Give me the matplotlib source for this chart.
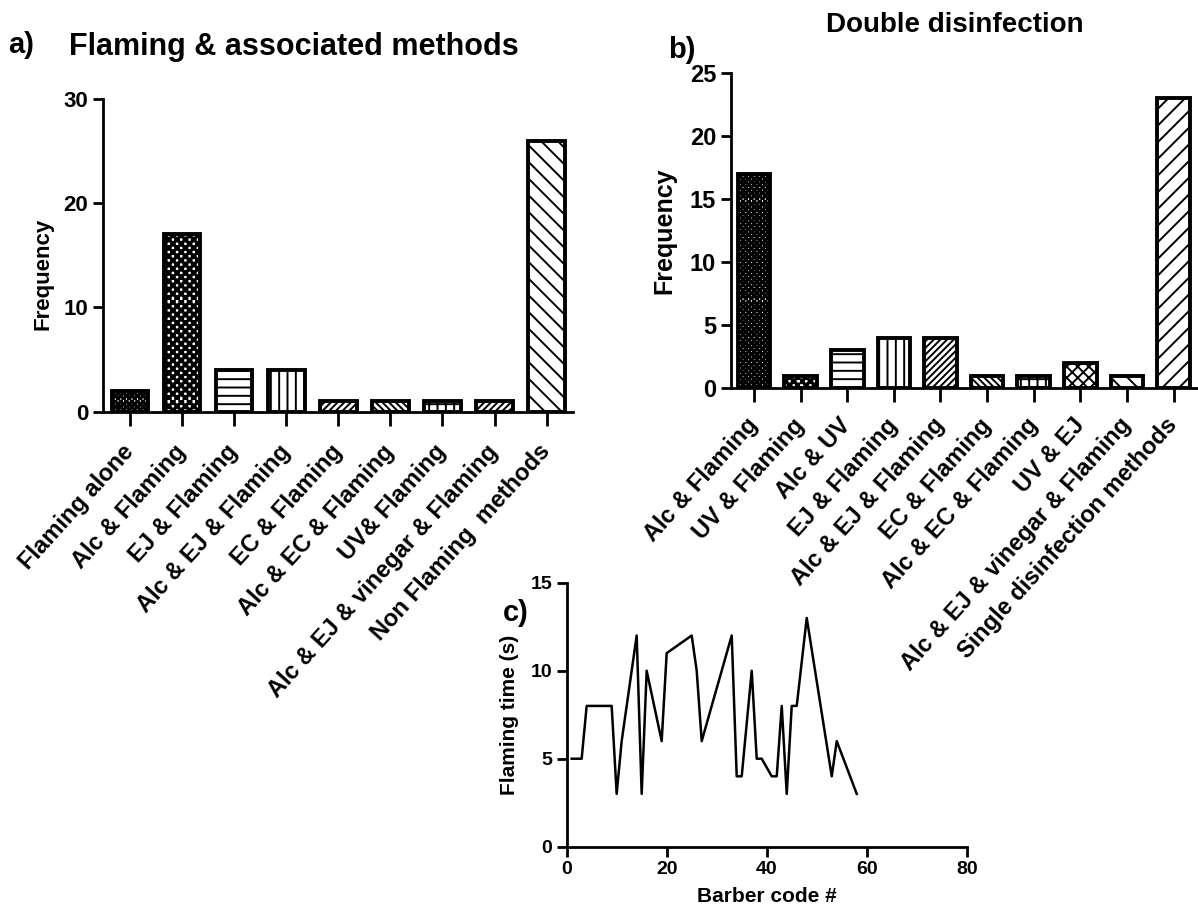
import matplotlib
matplotlib.use('Agg')
import matplotlib.pyplot as plt
import matplotlib.hatch as mhatch
from matplotlib.path import Path

# data
cats_a = ['Flaming alone', 'Alc & Flaming', 'EJ & Flaming', 'Alc & EJ & Flaming',
          'EC & Flaming', 'Alc & EC & Flaming', 'UV& Flaming',
          'Alc & EJ & vinegar & Flaming', 'Non Flaming  methods']
freq_a = [2, 17, 4, 4, 1, 1, 1, 1, 26]
hatch_a = ['OOO', 'OO', '--', '||', '/////', '\\\\\\\\\\', '++', '/////', '\\\\']

cats_b = ['Alc & Flaming', 'UV & Flaming', 'Alc & UV', 'EJ & Flaming',
          'Alc & EJ & Flaming', 'EC & Flaming', 'Alc & EC & Flaming', 'UV & EJ',
          'Alc & EJ & vinegar & Flaming', 'Single disinfection methods']
freq_b = [17, 1, 3, 4, 4, 1, 1, 2, 1, 23]
hatch_b = ['OOO', 'OO', '--', '||', '/////', '\\\\\\\\\\', '++', 'xxx', '\\\\', '//']

barber = [1, 3, 4, 9, 10, 11, 14, 15, 16, 19, 20, 25, 26, 27, 33, 34, 35, 37, 38, 39,
          41, 42, 43, 44, 45, 46, 48, 53, 54, 58]
ftime = [5, 5, 8, 8, 3, 6, 12, 3, 10, 6, 11, 12, 10, 6, 12, 4, 4, 10, 5, 5,
         4, 4, 8, 3, 8, 8, 13, 4, 6, 3]


# checkerboard hatch, takes the place of the 'O' circles
class Checker(mhatch.HatchPatternBase):
    def __init__(self, hatch, density):
        self.n = 12 * hatch.count('O')
        self.num_vertices = (self.n * self.n // 2) * 5

    def set_vertices_and_codes(self, vertices, codes):
        n = self.n
        s = 1.0 / n
        pad = 0.03 * s
        k = 0
        for i in range(n):
            for j in range(n):
                if (i + j) % 2:
                    continue
                x0, y0 = i * s + pad, j * s + pad
                x1, y1 = (i + 1) * s - pad, (j + 1) * s - pad
                vertices[k:k + 5] = [(x0, y0), (x1, y0), (x1, y1), (x0, y1), (x0, y0)]
                codes[k:k + 5] = [Path.MOVETO, Path.LINETO, Path.LINETO,
                                  Path.LINETO, Path.CLOSEPOLY]
                k += 5


mhatch._hatch_types = [Checker if t is mhatch.LargeCircles else t
                       for t in mhatch._hatch_types]

plt.rcParams['font.family'] = ['Liberation Sans', 'DejaVu Sans']
plt.rcParams['font.weight'] = 'bold'
plt.rcParams['hatch.linewidth'] = 1.4
plt.rcParams['axes.linewidth'] = 2.0

fig = plt.figure(figsize=(11.98, 9.07), dpi=100)


def style(ax, tsize):
    for s in ['top', 'right']:
        ax.spines[s].set_visible(False)
    ax.tick_params(width=2.0, length=7, labelsize=tsize)
    for lab in ax.get_yticklabels() + ax.get_xticklabels():
        lab.set_fontweight('bold')


# a)
ax1 = fig.add_axes([0.086, 0.546, 0.392, 0.345])
ax1.bar(range(len(freq_a)), freq_a, width=0.7, color='white', edgecolor='black',
        linewidth=2.8, hatch=hatch_a)
ax1.set_xlim(-0.52, len(freq_a) - 0.5)
ax1.set_ylim(0, 30)
ax1.set_yticks([0, 10, 20, 30])
ax1.set_xticks(range(len(cats_a)))
ax1.set_xticklabels(cats_a, rotation=48, ha='right', va='center', rotation_mode='anchor')
style(ax1, 16)
ax1.tick_params(axis='x', length=10, labelsize=17, pad=16)
ax1.set_ylabel('Frequency', fontsize=16, fontweight='bold')
ax1.yaxis.set_label_coords(-0.105, 0.44)

# b)
ax2 = fig.add_axes([0.610, 0.572, 0.389, 0.348])
ax2.bar(range(len(freq_b)), freq_b, width=0.7, color='white', edgecolor='black',
        linewidth=2.8, hatch=hatch_b)
ax2.set_xlim(-0.5, len(freq_b) - 0.5)
ax2.set_ylim(0, 25)
ax2.set_yticks([0, 5, 10, 15, 20, 25])
ax2.set_xticks(range(len(cats_b)))
ax2.set_xticklabels(cats_b, rotation=48, ha='right', va='center', rotation_mode='anchor')
style(ax2, 17)
ax2.tick_params(axis='x', length=10, labelsize=17, pad=14)
ax2.set_ylabel('Frequency', fontsize=18, fontweight='bold', labelpad=10)

# c)
ax3 = fig.add_axes([0.473, 0.0665, 0.334, 0.291])
ax3.patch.set_visible(False)
ax3.plot(barber, ftime, color='black', linewidth=1.8)
ax3.set_xlim(0, 80)
ax3.set_ylim(0, 15)
ax3.set_xticks([0, 20, 40, 60, 80])
ax3.set_yticks([0, 5, 10, 15])
style(ax3, 14)
ax3.set_xlabel('Barber code #', fontsize=15, fontweight='bold', labelpad=6)
ax3.set_ylabel('Flaming time (s)', fontsize=15, fontweight='bold', labelpad=8)

# panel letters and titles
fig.text(0.007, 0.95, 'a)', fontsize=21, fontweight='bold', va='center')
fig.text(0.058, 0.948, 'Flaming & associated methods', fontsize=22, fontweight='bold', va='center')
fig.text(0.558, 0.945, 'b)', fontsize=21, fontweight='bold', va='center')
fig.text(0.797, 0.972, 'Double disinfection', fontsize=20, fontweight='bold', va='center', ha='center')
fig.text(0.42, 0.324, 'c)', fontsize=21, fontweight='bold', va='center')

fig.savefig('out.png', dpi=100)
